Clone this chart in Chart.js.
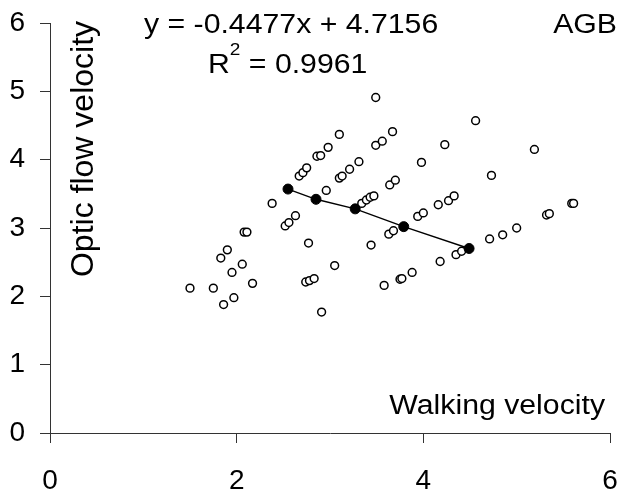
<!DOCTYPE html>
<html>
<head>
<meta charset="utf-8">
<script src="https://cdn.jsdelivr.net/npm/chart.js@4/dist/chart.umd.min.js"></script>
<style>
  html,body{margin:0;padding:0;background:#fff}
  #wrap{width:621px;height:500px}
</style>
</head>
<body>
<div id="wrap"><canvas id="chartAGB" width="621" height="500"></canvas></div>
<script>
// individual trials: walking velocity vs optic flow velocity
const walkX = [1.50,1.75,1.86,1.97,1.83,1.90,1.95,2.06,2.08,2.11,
               2.17,2.38,2.52,2.56,2.63,2.67,2.71,2.75,2.77,2.74,
               2.78,2.83,2.86,2.90,2.91,2.96,2.98,3.05,3.10,3.10,
               3.13,3.21,3.31,3.34,3.39,3.43,3.47,3.44,3.49,3.49,
               3.56,3.67,3.58,3.63,3.68,3.64,3.70,3.75,3.77,3.88,
               3.94,4.00,3.98,4.16,4.18,4.27,4.33,4.23,4.35,4.41,
               4.56,4.71,4.73,4.85,5.00,5.19,5.32,5.35,5.59,5.61];
const flowY = [2.12,2.12,1.88,1.98,2.56,2.68,2.35,2.47,2.94,2.94,
               2.19,3.36,3.03,3.08,3.18,3.76,3.81,3.88,2.78,2.21,
               2.23,2.26,4.05,4.06,1.77,3.55,4.18,2.45,4.37,3.73,
               3.76,3.86,3.97,3.36,3.41,3.45,3.47,2.75,4.91,4.21,
               4.27,4.41,2.16,2.91,2.96,3.63,3.70,2.25,2.26,2.35,
               3.17,3.22,3.96,3.34,2.51,3.40,3.47,4.22,2.61,2.66,
               4.57,2.84,3.77,2.90,3.00,4.15,3.19,3.21,3.36,3.36];

// condition means (filled dots joined by line)
const meanX = [2.55,2.85,3.27,3.79,4.49];
const meanY = [3.57,3.42,3.28,3.02,2.70];

const xTicks = [0,2,4,6];
const yTicks = [0,1,2,3,4,5,6];

const eqText  = 'y = -0.4477x + 4.7156';
const r2Value = ' = 0.9961';
const panelTag = 'AGB';
const xTitle = 'Walking velocity';
const yTitle = 'Optic flow velocity';

const FONT = '"Liberation Sans", Arial, sans-serif';
const AXIS = '#333';
const SX = 1.12; // source image is slightly stretched horizontally

function stretchText(ctx, txt, x, y, align, size){
  ctx.save();
  ctx.font = size + 'px ' + FONT;
  ctx.textAlign = align;
  ctx.textBaseline = 'alphabetic';
  ctx.translate(x, y);
  ctx.scale(SX, 1);
  ctx.fillText(txt, 0, 0);
  const w = ctx.measureText(txt).width * SX;
  ctx.restore();
  return w;
}

const labelsPlugin = {
  id: 'labelsPlugin',
  afterDraw(chart){
    const ctx = chart.ctx;
    ctx.save();
    ctx.fillStyle = '#000';
    stretchText(ctx, eqText, 144, 33, 'left', 27);
    let x = 208;
    x += stretchText(ctx, 'R', x, 73, 'left', 27);
    x += stretchText(ctx, '2', x, 55, 'left', 17);
    stretchText(ctx, r2Value, x, 73, 'left', 27);
    stretchText(ctx, panelTag, 617, 33, 'right', 27);
    stretchText(ctx, xTitle, 605, 414, 'right', 27);

    ctx.translate(93, 149);
    ctx.rotate(-Math.PI/2);
    ctx.font = '32px ' + FONT;
    ctx.textAlign = 'center';
    ctx.textBaseline = 'alphabetic';
    ctx.fillText(yTitle, 0, 0);
    ctx.restore();
  }
};

new Chart(document.getElementById('chartAGB'), {
  type: 'scatter',
  data: {
    datasets: [
      {
        label: 'means',
        data: meanX.map((x,i)=>({x, y: meanY[i]})),
        showLine: true,
        borderColor: '#000',
        borderWidth: 1.4,
        backgroundColor: '#000',
        pointBackgroundColor: '#000',
        pointBorderColor: '#000',
        pointRadius: 5,
        pointBorderWidth: 1,
        order: 0
      },
      {
        label: 'trials',
        data: walkX.map((x,i)=>({x, y: flowY[i]})),
        pointStyle: 'circle',
        pointRadius: 3.9,
        pointBorderWidth: 1.5,
        pointBorderColor: '#000',
        pointBackgroundColor: '#fff',
        order: 1
      }
    ]
  },
  options: {
    responsive: false,
    animation: false,
    events: [],
    layout: { padding: { top: 23, right: 11, left: 0, bottom: 0 } },
    plugins: { legend: { display: false }, tooltip: { enabled: false } },
    scales: {
      x: {
        type: 'linear', min: 0, max: 6,
        afterBuildTicks: s => { s.ticks = xTicks.map(v => ({value: v})); },
        afterFit: s => { s.height = 67; s.paddingLeft = 0; s.paddingRight = 0; },
        grid: { drawOnChartArea: false, drawTicks: true, tickLength: 10, color: AXIS, lineWidth: 1 },
        border: { display: true, color: AXIS, width: 1 },
        ticks: { color: '#000', padding: 21, maxRotation: 0, font: { family: FONT, size: 28 } }
      },
      y: {
        type: 'linear', min: 0, max: 6,
        afterBuildTicks: s => { s.ticks = yTicks.map(v => ({value: v})); },
        afterFit: s => { s.width = 50; s.paddingTop = 0; s.paddingBottom = 0; },
        grid: { drawOnChartArea: false, drawTicks: true, tickLength: 10, color: AXIS, lineWidth: 1 },
        border: { display: true, color: AXIS, width: 1 },
        ticks: { color: '#000', padding: 15, font: { family: FONT, size: 28 } }
      }
    }
  },
  plugins: [labelsPlugin]
});
</script>
</body>
</html>
